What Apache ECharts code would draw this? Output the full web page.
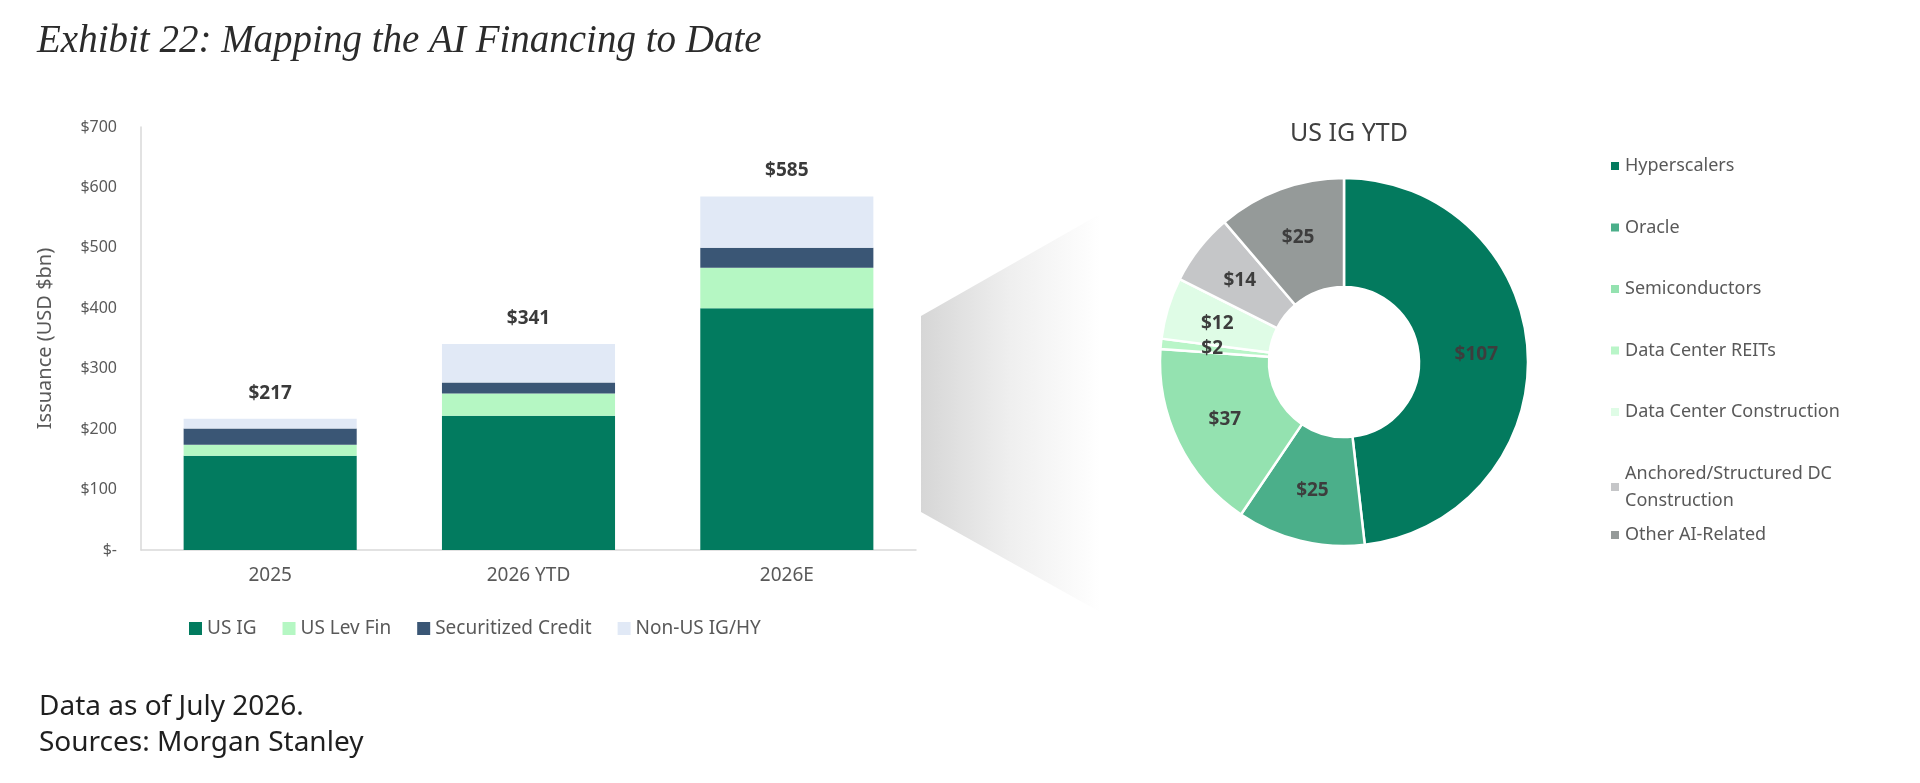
<!DOCTYPE html>
<html>
<head>
<meta charset="utf-8">
<title>Exhibit 22: Mapping the AI Financing to Date</title>
<script src="https://cdn.jsdelivr.net/npm/echarts@6/dist/echarts.min.js"></script>
<style>
    html, body { margin: 0; padding: 0; background: #fff; }
    #chart { width: 1920px; height: 783px; }
</style>
</head>
<body>
<div id="chart"></div>
<script>
// bar chart data (USD bn)
var years = ["2025", "2026 YTD", "2026E"];
var usIG = [156, 222, 400];
var usLevFin = [18, 37, 67];
var securitized = [27, 18, 33];
var nonUS = [16, 64, 85];
var yTicks = [0, 100, 200, 300, 400, 500, 600, 700];

// US IG YTD breakdown
var sectors = ["Hyperscalers", "Oracle", "Semiconductors", "Data Center REITs",
    "Data Center Construction", "Anchored/Structured DC Construction", "Other AI-Related"];
var sectorValues = [107, 25, 37, 2, 12, 14, 25];

var barColors = ["#027b5f", "#b5f7c3", "#3a5675", "#e1e9f6"];
var pieColors = ["#037a5e", "#4baf8a", "#94e2b0", "#b9f5c8", "#dffce6", "#c5c6c8", "#959a99"];

var font = "'Noto Sans', 'Open Sans', sans-serif";

var totals = [];
for (var i = 0; i < years.length; ++i) {
    totals.push(usIG[i] + usLevFin[i] + securitized[i] + nonUS[i]);
}

var pieData = [];
for (var i = 0; i < sectors.length; ++i) {
    pieData.push({ name: sectors[i], value: sectorValues[i], itemStyle: { color: pieColors[i] } });
}

function barSeries(name, data, color) {
    return {
        name: name,
        type: 'bar',
        stack: 'total',
        barWidth: '67%',
        itemStyle: { color: color },
        data: data
    };
}

var ser = [
    barSeries("US IG", usIG, barColors[0]),
    barSeries("US Lev Fin", usLevFin, barColors[1]),
    barSeries("Securitized Credit", securitized, barColors[2]),
    barSeries("Non-US IG/HY", nonUS, barColors[3])
];
ser[3].label = {
    show: true,
    position: 'top',
    distance: 16,
    fontFamily: font,
    fontSize: 19,
    fontWeight: 'bold',
    color: '#3a3a3a',
    formatter: function (p) {
        return '$' + totals[p.dataIndex];
    }
};

ser.push({
    name: 'US IG YTD',
    type: 'pie',
    center: [1344, 362],
    radius: [75, 184],
    startAngle: 90,
    clockwise: true,
    avoidLabelOverlap: false,
    itemStyle: { borderColor: '#fff', borderWidth: 2.5 },
    label: {
        show: true,
        position: 'inside',
        fontFamily: font,
        fontSize: 19,
        fontWeight: 'bold',
        color: '#3d3d3d',
        formatter: function (p) {
            return '$' + p.value;
        }
    },
    labelLine: { show: false },
    emphasis: { disabled: true },
    data: pieData
});

var option = {
    animation: false,
    color: barColors,
    textStyle: { fontFamily: font },
    title: [
        {
            text: 'Exhibit 22: Mapping the AI Financing to Date',
            left: 32,
            top: 17,
            textStyle: {
                fontFamily: "'Liberation Serif', 'DejaVu Serif', serif",
                fontStyle: 'italic',
                fontWeight: 'normal',
                fontSize: 39,
                color: '#2b2b2b'
            }
        },
        {
            text: 'US IG YTD',
            left: 1344,
            top: 116,
            textAlign: 'center',
            textStyle: { fontFamily: font, fontWeight: 'normal', fontSize: 25, color: '#404040' }
        },
        {
            text: 'Data as of July 2026.\nSources: Morgan Stanley',
            left: 34,
            top: 684,
            textStyle: { fontFamily: font, fontWeight: 'normal', fontSize: 28, lineHeight: 36, color: '#1f1f1f' }
        }
    ],
    legend: [
        {
            data: ["US IG", "US Lev Fin", "Securitized Credit", "Non-US IG/HY"],
            left: 184,
            top: 614,
            itemWidth: 13,
            itemHeight: 13,
            itemGap: 26,
            icon: 'rect',
            textStyle: { fontFamily: font, fontSize: 19, color: '#595959' }
        },
        {
            data: sectors.slice(0, 6),
            orient: 'vertical',
            left: 1604,
            top: 147.5,
            itemWidth: 10,
            itemHeight: 10,
            itemGap: 34.5,
            icon: 'rect',
            formatter: function (name) {
                return name == "Anchored/Structured DC Construction" ? "Anchored/Structured DC\nConstruction" : name;
            },
            textStyle: { fontFamily: font, fontSize: 18, lineHeight: 27, color: '#595959' }
        },
        {
            data: sectors.slice(6),
            orient: 'vertical',
            left: 1604,
            top: 516.5,
            itemWidth: 10,
            itemHeight: 10,
            icon: 'rect',
            textStyle: { fontFamily: font, fontSize: 18, lineHeight: 27, color: '#595959' }
        }
    ],
    grid: {
        left: 141,
        right: 1004,
        top: 127,
        bottom: 233,
        containLabel: false
    },
    xAxis: {
        type: 'category',
        data: years,
        axisLine: { lineStyle: { color: '#d9d9d9', width: 1.5 } },
        axisTick: { show: false },
        axisLabel: { margin: 16, fontFamily: font, fontSize: 19, color: '#595959' }
    },
    yAxis: {
        type: 'value',
        min: yTicks[0],
        max: yTicks[yTicks.length - 1],
        interval: 100,
        name: 'Issuance (USD $bn)',
        nameLocation: 'middle',
        nameGap: 86,
        nameTextStyle: { fontFamily: font, fontSize: 20, color: '#595959' },
        axisLine: { show: true, lineStyle: { color: '#d9d9d9', width: 1.5 } },
        axisTick: { show: false },
        splitLine: { show: false },
        axisLabel: {
            margin: 24,
            fontFamily: font,
            fontSize: 16,
            color: '#595959',
            formatter: function (v) {
                return v == 0 ? '$-' : '$' + v;
            }
        }
    },
    graphic: [
        {
            type: 'polygon',
            z: -1,
            shape: { points: [[921, 316], [1100, 214], [1100, 612], [921, 512]] },
            style: {
                fill: {
                    type: 'linear', x: 0, y: 0, x2: 1, y2: 0,
                    colorStops: [
                        { offset: 0, color: '#d6d6d6' },
                        { offset: 0.5, color: '#efefef' },
                        { offset: 1, color: '#ffffff' }
                    ]
                }
            }
        }
    ],
    series: ser
};

echarts.init(document.getElementById('chart')).setOption(option);
</script>
</body>
</html>
